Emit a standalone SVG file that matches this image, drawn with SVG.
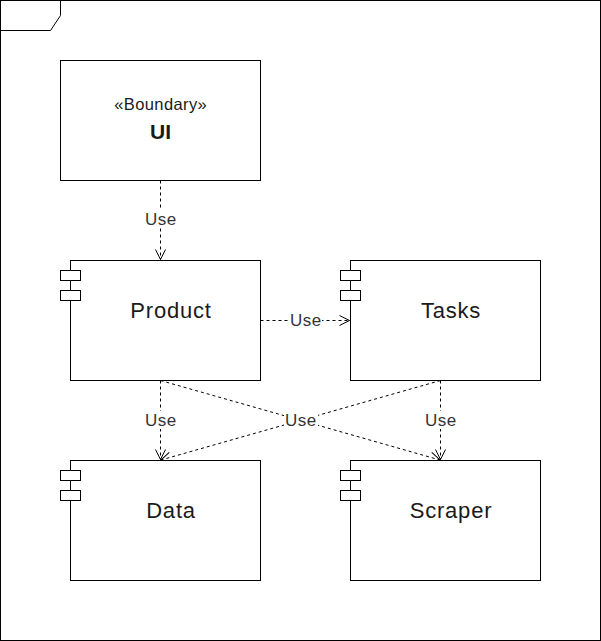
<svg xmlns="http://www.w3.org/2000/svg" width="601" height="641" viewBox="0 0 601 641">
<defs>
<style>
.box{fill:#fff;stroke:#000;stroke-width:1}
.t{font-family:"Liberation Sans",Arial,sans-serif;fill:#1a1a1a;text-anchor:middle}
.big{font-size:22px;letter-spacing:0.8px}
.edge{fill:none;stroke:#000;stroke-width:1;stroke-dasharray:3 3}
.lbl{font-family:"Liberation Sans",Arial,sans-serif;font-size:17px;letter-spacing:0.5px;fill:#333;text-anchor:middle}
.lb{fill:#fff}
</style>
<marker id="open" viewBox="0 0 12 12" refX="11" refY="6" markerWidth="12" markerHeight="12" markerUnits="userSpaceOnUse" orient="auto">
<path d="M1,1 L11,6 L1,11" fill="none" stroke="#000" stroke-width="1"/>
</marker>
</defs>
<g id="frame">
<rect x="0.5" y="0.5" width="600" height="640" fill="#fff" stroke="#000"/>
<path d="M0.5,30.5 L50.5,30.5 L60.5,15.5 L60.5,0.5" fill="none" stroke="#000"/>
</g>
<g id="connectors">
<path class="edge" d="M160.5,180.5 L160.5,259.5" marker-end="url(#open)"/>
<path class="edge" d="M260.5,320.5 L349.5,320.5" marker-end="url(#open)"/>
<path class="edge" d="M160.5,380.5 L160.5,459.5" marker-end="url(#open)"/>
<path class="edge" d="M440.5,380.5 L440.5,459.5" marker-end="url(#open)"/>
<path class="edge" d="M160.5,380.5 L440,460" marker-end="url(#open)"/>
<path class="edge" d="M440.5,380.5 L161,460" marker-end="url(#open)"/>
<rect class="lb" x="143" y="210" width="34" height="18"/>
<text class="lbl" x="160.8" y="225">Use</text>
<rect class="lb" x="288" y="311" width="34" height="18"/>
<text class="lbl" x="305.8" y="326">Use</text>
<rect class="lb" x="143" y="411" width="34" height="18"/>
<text class="lbl" x="160.8" y="426">Use</text>
<rect class="lb" x="423" y="411" width="34" height="18"/>
<text class="lbl" x="440.8" y="426">Use</text>
<rect class="lb" x="284" y="411" width="34" height="18"/>
<text class="lbl" x="300.8" y="426">Use</text>
</g>
<g id="ui">
<rect class="box" x="60.5" y="60.5" width="200" height="120"/>
<text class="t" x="160.7" y="110" style="font-size:16.5px;letter-spacing:0.4px">«Boundary»</text>
<text class="t" x="160.5" y="139" style="font-size:21px;font-weight:bold">UI</text>
</g>
<g id="product">
<rect class="box" x="70.5" y="260.5" width="190" height="120"/>
<rect class="box" x="60.5" y="270.5" width="20" height="10"/>
<rect class="box" x="60.5" y="290.5" width="20" height="10"/>
<text class="t big" x="171" y="318">Product</text>
</g>
<g id="tasks">
<rect class="box" x="350.5" y="260.5" width="190" height="120"/>
<rect class="box" x="340.5" y="270.5" width="20" height="10"/>
<rect class="box" x="340.5" y="290.5" width="20" height="10"/>
<text class="t big" x="451" y="318">Tasks</text>
</g>
<g id="data">
<rect class="box" x="70.5" y="460.5" width="190" height="120"/>
<rect class="box" x="60.5" y="470.5" width="20" height="10"/>
<rect class="box" x="60.5" y="490.5" width="20" height="10"/>
<text class="t big" x="171" y="518">Data</text>
</g>
<g id="scraper">
<rect class="box" x="350.5" y="460.5" width="190" height="120"/>
<rect class="box" x="340.5" y="470.5" width="20" height="10"/>
<rect class="box" x="340.5" y="490.5" width="20" height="10"/>
<text class="t big" x="451" y="518">Scraper</text>
</g>
</svg>
